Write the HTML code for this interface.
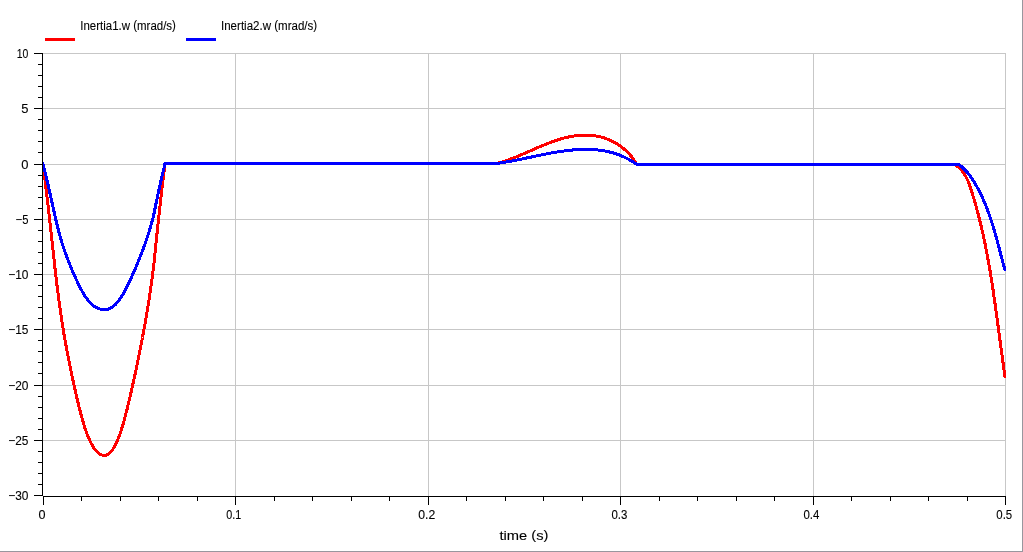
<!DOCTYPE html>
<html lang="en">
<head>
<meta charset="utf-8">
<title>Plot</title>
<style>
html,body{margin:0;padding:0;background:#ffffff;}
body{width:1023px;height:552px;overflow:hidden;font-family:"Liberation Sans",sans-serif;}
svg{display:block;will-change:transform;}
</style>
</head>
<body>
<svg width="1023" height="552" viewBox="0 0 1023 552">
<rect x="0" y="0" width="1023" height="552" fill="#ffffff"/>
<rect x="1022" y="0" width="1" height="552" fill="#98969e"/>
<rect x="0" y="551" width="1023" height="1" fill="#98969e"/>
<g fill="#c7c7c7" shape-rendering="crispEdges">
<rect x="43" y="53" width="963" height="1"/>
<rect x="43" y="108" width="963" height="1"/>
<rect x="43" y="164" width="963" height="1"/>
<rect x="43" y="219" width="963" height="1"/>
<rect x="43" y="274" width="963" height="1"/>
<rect x="43" y="329" width="963" height="1"/>
<rect x="43" y="385" width="963" height="1"/>
<rect x="43" y="440" width="963" height="1"/>
<rect x="235" y="53" width="1" height="443"/>
<rect x="428" y="53" width="1" height="443"/>
<rect x="620" y="53" width="1" height="443"/>
<rect x="813" y="53" width="1" height="443"/>
<rect x="1005" y="53" width="1" height="443"/>
</g>
<clipPath id="cv"><rect x="43" y="53" width="963" height="443"/></clipPath>
<g fill="none" stroke-width="3" stroke-linejoin="round" stroke-linecap="butt" shape-rendering="crispEdges" clip-path="url(#cv)">
<path stroke="#ff0000" d="M42.6 162.1L42.6 164.0L43.0 164.0L43.3 166.3L43.6 168.6L43.8 170.9L44.1 173.2L44.4 175.5L44.7 177.8L45.0 180.1L45.2 182.3L45.5 184.6L45.8 186.9L46.1 189.2L46.3 191.5L46.6 193.8L46.9 196.1L47.2 198.3L47.4 200.6L47.7 202.9L48.0 205.2L48.2 207.4L48.5 209.7L48.8 212.0L49.0 214.2L49.3 216.5L49.5 218.7L49.8 221.0L50.0 223.2L50.3 225.5L50.5 227.7L50.8 230.0L51.0 232.2L51.3 234.4L51.5 236.6L51.8 238.9L52.0 241.1L52.2 243.3L52.5 245.5L52.7 247.7L53.0 249.9L53.2 252.1L53.4 254.3L53.7 256.4L53.9 258.6L54.2 260.8L54.4 262.9L54.6 265.1L54.9 267.2L55.1 269.4L55.4 271.5L55.6 273.7L55.9 275.8L56.1 277.9L56.4 280.0L56.6 282.1L56.9 284.2L57.1 286.3L57.4 288.4L57.6 290.4L57.9 292.5L58.2 294.6L58.4 296.6L58.7 298.6L59.0 300.7L59.2 302.7L59.5 304.7L59.8 306.7L60.1 308.7L60.4 310.7L60.6 312.7L60.9 314.6L61.2 316.6L61.5 318.5L61.8 320.5L62.1 322.4L62.4 324.3L62.7 326.3L63.0 328.2L63.3 330.0L63.6 331.9L63.9 333.8L64.2 335.7L64.6 337.5L64.9 339.3L65.2 341.2L65.5 343.0L65.9 344.8L66.2 346.6L66.5 348.4L66.8 350.1L67.2 351.9L67.5 353.6L67.8 355.4L68.2 357.1L68.5 358.8L68.9 360.5L69.2 362.2L69.5 363.9L69.9 365.5L70.2 367.2L70.5 368.8L70.9 370.5L71.2 372.1L71.6 373.7L71.9 375.3L72.2 376.8L72.6 378.4L72.9 379.9L73.2 381.5L73.6 383.0L73.9 384.5L74.2 386.0L74.5 387.5L74.9 388.9L75.2 390.4L75.5 391.8L75.8 393.2L76.2 394.7L76.5 396.1L76.8 397.4L77.1 398.8L77.4 400.2L77.7 401.5L78.1 402.8L78.4 404.1L78.7 405.4L79.0 406.7L79.3 408.0L79.6 409.2L79.9 410.4L80.3 411.6L80.6 412.8L80.9 414.0L81.2 415.2L81.5 416.4L81.8 417.5L82.1 418.6L82.4 419.7L82.7 420.8L83.1 421.9L83.4 423.0L83.7 424.0L84.0 425.0L84.3 426.0L84.6 427.0L84.9 428.0L85.3 429.0L85.6 429.9L85.9 430.9L86.2 431.8L86.5 432.7L86.9 433.5L87.2 434.4L87.5 435.3L87.8 436.1L88.2 436.9L88.5 437.7L88.8 438.5L89.2 439.2L89.5 440.0L89.8 440.7L90.2 441.4L90.5 442.1L90.9 442.8L91.2 443.4L91.6 444.1L91.9 444.7L92.3 445.3L92.6 445.9L93.0 446.5L93.3 447.0L93.7 447.6L94.0 448.1L94.4 448.6L94.7 449.1L95.1 449.5L95.4 450.0L95.8 450.4L96.2 450.8L96.5 451.2L96.9 451.6L97.2 452.0L97.6 452.3L98.0 452.6L98.3 452.9L98.7 453.2L99.0 453.5L99.4 453.8L99.8 454.0L100.1 454.2L100.5 454.4L100.8 454.6L101.2 454.7L101.6 454.9L101.9 455.0L102.3 455.1L102.6 455.2L103.0 455.3L103.3 455.3L103.7 455.4L104.0 455.4L104.4 455.4L104.7 455.4L105.1 455.3L105.4 455.3L105.8 455.2L106.1 455.1L106.4 455.0L106.8 454.9L107.1 454.7L107.5 454.6L107.8 454.4L108.1 454.2L108.5 454.0L108.8 453.8L109.1 453.5L109.4 453.2L109.8 452.9L110.1 452.6L110.4 452.3L110.8 452.0L111.1 451.6L111.4 451.2L111.7 450.8L112.0 450.4L112.4 450.0L112.7 449.5L113.0 449.1L113.3 448.6L113.6 448.1L114.0 447.6L114.3 447.0L114.6 446.5L114.9 445.9L115.2 445.3L115.5 444.7L115.8 444.1L116.1 443.4L116.4 442.8L116.8 442.1L117.1 441.4L117.4 440.7L117.7 440.0L118.0 439.2L118.3 438.5L118.6 437.7L118.9 436.9L119.2 436.1L119.5 435.3L119.8 434.4L120.1 433.5L120.4 432.7L120.7 431.8L121.0 430.9L121.3 429.9L121.6 429.0L121.9 428.0L122.2 427.0L122.5 426.0L122.8 425.0L123.1 424.0L123.4 423.0L123.7 421.9L124.0 420.8L124.3 419.7L124.6 418.6L124.9 417.5L125.2 416.4L125.5 415.2L125.8 414.0L126.1 412.8L126.5 411.6L126.8 410.4L127.1 409.2L127.4 408.0L127.7 406.7L128.0 405.4L128.3 404.1L128.6 402.8L128.9 401.5L129.3 400.2L129.6 398.8L129.9 397.4L130.2 396.1L130.5 394.7L130.8 393.2L131.2 391.8L131.5 390.4L131.8 388.9L132.2 387.5L132.5 386.0L132.8 384.5L133.1 383.0L133.5 381.5L133.8 379.9L134.2 378.4L134.5 376.8L134.8 375.3L135.2 373.7L135.5 372.1L135.9 370.5L136.2 368.8L136.6 367.2L136.9 365.5L137.2 363.9L137.6 362.2L137.9 360.5L138.3 358.8L138.6 357.1L139.0 355.4L139.3 353.6L139.7 351.9L140.0 350.1L140.4 348.4L140.7 346.6L141.1 344.8L141.4 343.0L141.8 341.2L142.1 339.3L142.5 337.5L142.8 335.7L143.2 333.8L143.5 331.9L143.9 330.0L144.2 328.2L144.6 326.3L144.9 324.3L145.3 322.4L145.6 320.5L145.9 318.5L146.3 316.6L146.6 314.6L146.9 312.7L147.3 310.7L147.6 308.7L147.9 306.7L148.3 304.7L148.6 302.7L148.9 300.7L149.2 298.6L149.5 296.6L149.8 294.6L150.1 292.5L150.4 290.4L150.7 288.4L151.0 286.3L151.3 284.2L151.6 282.1L151.9 280.0L152.2 277.9L152.4 275.8L152.7 273.7L153.0 271.5L153.2 269.4L153.5 267.2L153.7 265.1L154.0 262.9L154.2 260.8L154.4 258.6L154.7 256.4L154.9 254.3L155.1 252.1L155.4 249.9L155.6 247.7L155.8 245.5L156.0 243.3L156.3 241.1L156.5 238.9L156.7 236.6L156.9 234.4L157.2 232.2L157.4 230.0L157.6 227.7L157.9 225.5L158.1 223.2L158.3 221.0L158.6 218.7L158.8 216.5L159.1 214.2L159.3 212.0L159.6 209.7L159.8 207.4L160.1 205.2L160.3 202.9L160.6 200.6L160.8 198.3L161.1 196.1L161.4 193.8L161.6 191.5L161.9 189.2L162.2 186.9L162.4 184.6L162.7 182.3L163.0 180.1L163.3 177.8L163.5 175.5L163.8 173.2L164.1 170.9L164.3 168.6L164.6 166.3L164.9 164.0L164.9 163.5L496.5 163.5L496.5 163.5L497.0 163.4L497.5 163.2L498.0 163.1L498.5 163.0L499.0 162.9L499.5 162.7L499.9 162.6L500.4 162.4L500.9 162.3L501.4 162.2L501.9 162.0L502.4 161.9L502.9 161.7L503.4 161.6L503.9 161.4L504.4 161.2L504.8 161.1L505.3 160.9L505.8 160.8L506.3 160.6L506.8 160.4L507.3 160.3L507.8 160.1L508.3 159.9L508.7 159.7L509.2 159.6L509.7 159.4L510.2 159.2L510.7 159.0L511.2 158.9L511.7 158.7L512.1 158.5L512.6 158.3L513.1 158.1L513.6 157.9L514.1 157.7L514.6 157.5L515.1 157.3L515.5 157.1L516.0 157.0L516.5 156.8L517.0 156.6L517.5 156.4L518.0 156.2L518.5 156.0L518.9 155.8L519.4 155.6L519.9 155.3L520.4 155.1L520.9 154.9L521.4 154.7L521.8 154.5L522.3 154.3L522.8 154.1L523.3 153.9L523.8 153.7L524.3 153.5L524.7 153.3L525.2 153.1L525.7 152.8L526.2 152.6L526.7 152.4L527.2 152.2L527.6 152.0L528.1 151.8L528.6 151.6L529.1 151.4L529.6 151.1L530.1 150.9L530.6 150.7L531.0 150.5L531.5 150.3L532.0 150.1L532.5 149.9L533.0 149.6L533.5 149.4L533.9 149.2L534.4 149.0L534.9 148.8L535.4 148.6L535.9 148.4L536.4 148.2L536.9 147.9L537.3 147.7L537.8 147.5L538.3 147.3L538.8 147.1L539.3 146.9L539.8 146.7L540.3 146.5L540.7 146.3L541.2 146.1L541.7 145.9L542.2 145.7L542.7 145.5L543.2 145.3L543.7 145.1L544.2 144.9L544.7 144.7L545.1 144.5L545.6 144.3L546.1 144.1L546.6 143.9L547.1 143.7L547.6 143.5L548.1 143.3L548.6 143.1L549.1 142.9L549.6 142.7L550.0 142.5L550.5 142.3L551.0 142.2L551.5 142.0L552.0 141.8L552.5 141.6L553.0 141.4L553.5 141.3L554.0 141.1L554.5 140.9L555.0 140.8L555.5 140.6L556.0 140.4L556.5 140.3L557.0 140.1L557.5 139.9L558.0 139.8L558.5 139.6L559.0 139.5L559.5 139.3L560.0 139.2L560.5 139.0L561.0 138.9L561.5 138.7L562.0 138.6L562.5 138.4L563.0 138.3L563.5 138.2L564.0 138.0L564.5 137.9L565.0 137.8L565.5 137.7L566.0 137.5L566.5 137.4L567.0 137.3L567.5 137.2L568.0 137.1L568.5 137.0L569.0 136.9L569.5 136.8L570.0 136.7L570.5 136.6L571.0 136.5L571.6 136.4L572.1 136.3L572.6 136.2L573.1 136.1L573.6 136.0L574.1 136.0L574.6 135.9L575.1 135.8L575.7 135.8L576.2 135.7L576.7 135.6L577.2 135.6L577.7 135.5L578.2 135.5L578.8 135.4L579.3 135.4L579.8 135.4L580.3 135.3L580.8 135.3L581.4 135.3L581.9 135.2L582.4 135.2L582.9 135.2L583.4 135.2L583.9 135.2L584.5 135.2L585.0 135.2L585.5 135.2L586.0 135.2L586.5 135.2L587.1 135.2L587.6 135.2L588.1 135.2L588.6 135.3L589.1 135.3L589.7 135.3L590.2 135.4L590.7 135.4L591.2 135.4L591.7 135.5L592.2 135.5L592.7 135.6L593.3 135.7L593.8 135.7L594.3 135.8L594.8 135.9L595.3 135.9L595.8 136.0L596.3 136.1L596.8 136.2L597.3 136.3L597.9 136.4L598.4 136.5L598.9 136.6L599.4 136.7L599.9 136.8L600.4 136.9L600.9 137.0L601.4 137.2L601.9 137.3L602.4 137.4L602.9 137.6L603.4 137.7L603.9 137.9L604.4 138.0L604.9 138.2L605.3 138.4L605.8 138.5L606.3 138.7L606.8 138.9L607.3 139.1L607.8 139.2L608.3 139.4L608.7 139.6L609.2 139.8L609.7 140.0L610.2 140.2L610.6 140.5L611.1 140.7L611.6 140.9L612.0 141.1L612.5 141.4L613.0 141.6L613.4 141.8L613.9 142.1L614.4 142.3L614.8 142.6L615.3 142.8L615.7 143.1L616.2 143.4L616.6 143.6L617.1 143.9L617.5 144.2L617.9 144.5L618.4 144.7L618.8 145.0L619.2 145.3L619.7 145.6L620.1 145.9L620.5 146.2L620.9 146.5L621.4 146.8L621.8 147.2L622.2 147.5L622.6 147.8L623.0 148.1L623.4 148.5L623.8 148.8L624.2 149.1L624.6 149.5L625.0 149.8L625.4 150.2L625.8 150.5L626.2 150.9L626.5 151.2L626.9 151.6L627.3 152.0L627.7 152.3L628.0 152.7L628.4 153.1L628.8 153.5L629.1 153.9L629.5 154.3L629.8 154.6L630.2 155.0L630.5 155.4L630.8 155.8L631.2 156.2L631.5 156.6L631.8 157.1L632.2 157.5L632.5 157.9L632.8 158.3L633.1 158.7L633.4 159.2L633.7 159.6L634.0 160.0L634.3 160.5L634.6 160.9L634.9 161.3L635.2 161.8L635.5 162.2L635.7 162.7L636.0 163.1L636.3 163.6L636.5 164.0L636.8 164.5L636.8 164.5L954.5 164.5L954.5 164.5L955.2 164.9L955.8 165.3L956.5 165.7L957.1 166.2L957.7 166.6L958.2 167.1L958.8 167.6L959.4 168.1L959.9 168.6L960.4 169.1L960.9 169.6L961.4 170.1L961.8 170.7L962.3 171.3L962.7 171.8L963.2 172.4L963.6 173.0L964.0 173.6L964.4 174.2L964.8 174.8L965.1 175.4L965.5 176.1L965.9 176.7L966.2 177.3L966.5 178.0L966.8 178.6L967.2 179.3L967.5 180.0L967.8 180.6L968.1 181.3L968.3 182.0L968.6 182.7L968.9 183.4L969.2 184.1L969.4 184.8L969.7 185.5L969.9 186.2L970.2 186.9L970.4 187.6L970.7 188.3L970.9 189.0L971.1 189.7L971.4 190.4L971.6 191.1L971.8 191.9L972.0 192.6L972.3 193.3L972.5 194.0L972.7 194.7L972.9 195.4L973.1 196.2L973.3 196.9L973.6 197.6L973.8 198.3L974.0 199.0L974.2 199.8L974.4 200.5L974.6 201.2L974.8 201.9L975.0 202.6L975.2 203.4L975.5 204.1L975.7 204.8L975.9 205.5L976.1 206.2L976.3 207.0L976.5 207.7L976.7 208.4L976.9 209.1L977.0 209.8L977.2 210.6L977.4 211.3L977.6 212.0L977.8 212.7L978.0 213.5L978.2 214.2L978.4 214.9L978.6 215.6L978.8 216.3L978.9 217.1L979.1 217.8L979.3 218.5L979.5 219.2L979.7 220.0L979.8 220.7L980.0 221.4L980.2 222.1L980.4 222.9L980.5 223.6L980.7 224.3L980.9 225.0L981.1 225.8L981.2 226.5L981.4 227.2L981.6 227.9L981.7 228.7L981.9 229.4L982.1 230.1L982.2 230.8L982.4 231.6L982.6 232.3L982.7 233.0L982.9 233.8L983.1 234.5L983.2 235.2L983.4 235.9L983.5 236.7L983.7 237.4L983.8 238.1L984.0 238.9L984.2 239.6L984.3 240.3L984.5 241.0L984.6 241.8L984.8 242.5L984.9 243.2L985.1 244.0L985.2 244.7L985.4 245.4L985.5 246.1L985.6 246.9L985.8 247.6L985.9 248.3L986.1 249.1L986.2 249.8L986.4 250.5L986.5 251.3L986.6 252.0L986.8 252.7L986.9 253.4L987.1 254.2L987.2 254.9L987.3 255.6L987.5 256.4L987.6 257.1L987.7 257.8L987.9 258.6L988.0 259.3L988.1 260.0L988.3 260.8L988.4 261.5L988.5 262.2L988.7 263.0L988.8 263.7L988.9 264.4L989.1 265.2L989.2 265.9L989.3 266.6L989.4 267.4L989.6 268.1L989.7 268.8L989.8 269.6L989.9 270.3L990.1 271.0L990.2 271.8L990.3 272.5L990.4 273.2L990.5 274.0L990.7 274.7L990.8 275.4L990.9 276.2L991.0 276.9L991.1 277.6L991.3 278.4L991.4 279.1L991.5 279.8L991.6 280.6L991.7 281.3L991.8 282.0L991.9 282.8L992.1 283.5L992.2 284.3L992.3 285.0L992.4 285.7L992.5 286.5L992.6 287.2L992.7 287.9L992.8 288.7L993.0 289.4L993.1 290.1L993.2 290.9L993.3 291.6L993.4 292.4L993.5 293.1L993.6 293.8L993.7 294.6L993.8 295.3L993.9 296.0L994.0 296.8L994.2 297.5L994.3 298.2L994.4 299.0L994.5 299.7L994.6 300.5L994.7 301.2L994.8 301.9L994.9 302.7L995.0 303.4L995.1 304.1L995.2 304.9L995.3 305.6L995.4 306.4L995.5 307.1L995.6 307.8L995.7 308.6L995.8 309.3L995.9 310.0L996.0 310.8L996.1 311.5L996.2 312.3L996.3 313.0L996.4 313.7L996.5 314.5L996.6 315.2L996.7 315.9L996.8 316.7L996.9 317.4L997.0 318.2L997.1 318.9L997.2 319.6L997.3 320.4L997.4 321.1L997.5 321.9L997.6 322.6L997.7 323.3L997.8 324.1L997.9 324.8L998.0 325.5L998.1 326.3L998.2 327.0L998.3 327.8L998.4 328.5L998.5 329.2L998.6 330.0L998.7 330.7L998.8 331.5L998.9 332.2L999.0 332.9L999.1 333.7L999.2 334.4L999.3 335.2L999.4 335.9L999.5 336.6L999.6 337.4L999.7 338.1L999.8 338.8L999.9 339.6L1000.0 340.3L1000.1 341.1L1000.2 341.8L1000.3 342.5L1000.4 343.3L1000.5 344.0L1000.6 344.8L1000.7 345.5L1000.8 346.2L1000.9 347.0L1001.0 347.7L1001.1 348.5L1001.2 349.2L1001.3 349.9L1001.4 350.7L1001.5 351.4L1001.6 352.2L1001.7 352.9L1001.8 353.6L1001.9 354.4L1002.0 355.1L1002.1 355.8L1002.2 356.6L1002.3 357.3L1002.4 358.1L1002.5 358.8L1002.6 359.5L1002.7 360.3L1002.8 361.0L1002.9 361.8L1003.0 362.5L1003.1 363.2L1003.2 364.0L1003.3 364.7L1003.4 365.4L1003.5 366.2L1003.6 366.9L1003.7 367.7L1003.8 368.4L1003.9 369.1L1004.0 369.9L1004.1 370.6L1004.2 371.4L1004.3 372.1L1004.4 372.8L1004.6 373.6L1004.7 374.3L1004.8 375.0L1004.9 375.8L1005.0 376.5L1005.1 377.3L1005.2 378.0"/>
<path stroke="#0000ff" d="M42.6 162.1L42.6 164.0L43.0 164.0L43.3 165.1L43.6 166.3L43.8 167.4L44.1 168.6L44.4 169.7L44.7 170.9L45.0 172.0L45.2 173.2L45.5 174.3L45.8 175.5L46.1 176.6L46.3 177.7L46.6 178.9L46.9 180.0L47.2 181.2L47.4 182.3L47.7 183.4L48.0 184.6L48.2 185.7L48.5 186.8L48.8 188.0L49.0 189.1L49.3 190.2L49.5 191.4L49.8 192.5L50.0 193.6L50.3 194.7L50.5 195.9L50.8 197.0L51.0 198.1L51.3 199.2L51.5 200.3L51.8 201.4L52.0 202.5L52.2 203.6L52.5 204.7L52.7 205.8L53.0 206.9L53.2 208.0L53.4 209.1L53.7 210.2L53.9 211.3L54.2 212.4L54.4 213.5L54.6 214.6L54.9 215.6L55.1 216.7L55.4 217.8L55.6 218.8L55.9 219.9L56.1 220.9L56.4 222.0L56.6 223.1L56.9 224.1L57.1 225.1L57.4 226.2L57.6 227.2L57.9 228.2L58.2 229.3L58.4 230.3L58.7 231.3L59.0 232.3L59.2 233.3L59.5 234.4L59.8 235.4L60.1 236.4L60.4 237.3L60.6 238.3L60.9 239.3L61.2 240.3L61.5 241.3L61.8 242.2L62.1 243.2L62.4 244.2L62.7 245.1L63.0 246.1L63.3 247.0L63.6 248.0L63.9 248.9L64.2 249.8L64.6 250.8L64.9 251.7L65.2 252.6L65.5 253.5L65.9 254.4L66.2 255.3L66.5 256.2L66.8 257.1L67.2 257.9L67.5 258.8L67.8 259.7L68.2 260.6L68.5 261.4L68.9 262.3L69.2 263.1L69.5 263.9L69.9 264.8L70.2 265.6L70.5 266.4L70.9 267.2L71.2 268.0L71.6 268.8L71.9 269.6L72.2 270.4L72.6 271.2L72.9 272.0L73.2 272.7L73.6 273.5L73.9 274.2L74.2 275.0L74.5 275.7L74.9 276.5L75.2 277.2L75.5 277.9L75.8 278.6L76.2 279.3L76.5 280.0L76.8 280.7L77.1 281.4L77.4 282.1L77.7 282.7L78.1 283.4L78.4 284.1L78.7 284.7L79.0 285.3L79.3 286.0L79.6 286.6L79.9 287.2L80.3 287.8L80.6 288.4L80.9 289.0L81.2 289.6L81.5 290.2L81.8 290.7L82.1 291.3L82.4 291.9L82.7 292.4L83.1 292.9L83.4 293.5L83.7 294.0L84.0 294.5L84.3 295.0L84.6 295.5L84.9 296.0L85.3 296.5L85.6 297.0L85.9 297.4L86.2 297.9L86.5 298.3L86.9 298.8L87.2 299.2L87.5 299.6L87.8 300.0L88.2 300.4L88.5 300.8L88.8 301.2L89.2 301.6L89.5 302.0L89.8 302.4L90.2 302.7L90.5 303.1L90.9 303.4L91.2 303.7L91.6 304.0L91.9 304.4L92.3 304.7L92.6 305.0L93.0 305.2L93.3 305.5L93.7 305.8L94.0 306.0L94.4 306.3L94.7 306.5L95.1 306.8L95.4 307.0L95.8 307.2L96.2 307.4L96.5 307.6L96.9 307.8L97.2 308.0L97.6 308.2L98.0 308.3L98.3 308.5L98.7 308.6L99.0 308.8L99.4 308.9L99.8 309.0L100.1 309.1L100.5 309.2L100.8 309.3L101.2 309.4L101.6 309.4L101.9 309.5L102.3 309.6L102.6 309.6L103.0 309.6L103.3 309.7L103.7 309.7L104.0 309.7L104.4 309.7L104.7 309.7L105.1 309.7L105.4 309.6L105.8 309.6L106.1 309.6L106.4 309.5L106.8 309.4L107.1 309.4L107.5 309.3L107.8 309.2L108.1 309.1L108.5 309.0L108.8 308.9L109.1 308.8L109.4 308.6L109.8 308.5L110.1 308.3L110.4 308.2L110.8 308.0L111.1 307.8L111.4 307.6L111.7 307.4L112.0 307.2L112.4 307.0L112.7 306.8L113.0 306.5L113.3 306.3L113.6 306.0L114.0 305.8L114.3 305.5L114.6 305.2L114.9 305.0L115.2 304.7L115.5 304.4L115.8 304.0L116.1 303.7L116.4 303.4L116.8 303.1L117.1 302.7L117.4 302.4L117.7 302.0L118.0 301.6L118.3 301.2L118.6 300.8L118.9 300.4L119.2 300.0L119.5 299.6L119.8 299.2L120.1 298.8L120.4 298.3L120.7 297.9L121.0 297.4L121.3 297.0L121.6 296.5L121.9 296.0L122.2 295.5L122.5 295.0L122.8 294.5L123.1 294.0L123.4 293.5L123.7 292.9L124.0 292.4L124.3 291.9L124.6 291.3L124.9 290.7L125.2 290.2L125.5 289.6L125.8 289.0L126.1 288.4L126.5 287.8L126.8 287.2L127.1 286.6L127.4 286.0L127.7 285.3L128.0 284.7L128.3 284.1L128.6 283.4L128.9 282.7L129.3 282.1L129.6 281.4L129.9 280.7L130.2 280.0L130.5 279.3L130.8 278.6L131.2 277.9L131.5 277.2L131.8 276.5L132.2 275.7L132.5 275.0L132.8 274.2L133.1 273.5L133.5 272.7L133.8 272.0L134.2 271.2L134.5 270.4L134.8 269.6L135.2 268.8L135.5 268.0L135.9 267.2L136.2 266.4L136.6 265.6L136.9 264.8L137.2 263.9L137.6 263.1L137.9 262.3L138.3 261.4L138.6 260.6L139.0 259.7L139.3 258.8L139.7 257.9L140.0 257.1L140.4 256.2L140.7 255.3L141.1 254.4L141.4 253.5L141.8 252.6L142.1 251.7L142.5 250.8L142.8 249.8L143.2 248.9L143.5 248.0L143.9 247.0L144.2 246.1L144.6 245.1L144.9 244.2L145.3 243.2L145.6 242.2L145.9 241.3L146.3 240.3L146.6 239.3L146.9 238.3L147.3 237.3L147.6 236.4L147.9 235.4L148.3 234.4L148.6 233.3L148.9 232.3L149.2 231.3L149.5 230.3L149.8 229.3L150.1 228.2L150.4 227.2L150.7 226.2L151.0 225.1L151.3 224.1L151.6 223.1L151.9 222.0L152.2 220.9L152.4 219.9L152.7 218.8L153.0 217.8L153.2 216.7L153.5 215.6L153.7 214.6L154.0 213.5L154.2 212.4L154.4 211.3L154.7 210.2L154.9 209.1L155.1 208.0L155.4 206.9L155.6 205.8L155.8 204.7L156.0 203.6L156.3 202.5L156.5 201.4L156.7 200.3L156.9 199.2L157.2 198.1L157.4 197.0L157.6 195.9L157.9 194.7L158.1 193.6L158.3 192.5L158.6 191.4L158.8 190.2L159.1 189.1L159.3 188.0L159.6 186.8L159.8 185.7L160.1 184.6L160.3 183.4L160.6 182.3L160.8 181.2L161.1 180.0L161.4 178.9L161.6 177.7L161.9 176.6L162.2 175.5L162.4 174.3L162.7 173.2L163.0 172.0L163.3 170.9L163.5 169.7L163.8 168.6L164.1 167.4L164.3 166.3L164.6 165.1L164.9 164.0L164.9 163.5L496.5 163.5L496.5 163.5L497.0 163.4L497.4 163.4L497.9 163.3L498.3 163.3L498.8 163.2L499.3 163.1L499.7 163.1L500.2 163.0L500.7 162.9L501.1 162.9L501.6 162.8L502.0 162.7L502.5 162.6L503.0 162.6L503.4 162.5L503.9 162.4L504.4 162.3L504.8 162.3L505.3 162.2L505.8 162.1L506.2 162.0L506.7 161.9L507.2 161.9L507.6 161.8L508.1 161.7L508.6 161.6L509.1 161.5L509.5 161.4L510.0 161.4L510.5 161.3L510.9 161.2L511.4 161.1L511.9 161.0L512.4 160.9L512.8 160.8L513.3 160.7L513.8 160.6L514.2 160.5L514.7 160.5L515.2 160.4L515.7 160.3L516.1 160.2L516.6 160.1L517.1 160.0L517.6 159.9L518.0 159.8L518.5 159.7L519.0 159.6L519.5 159.5L519.9 159.4L520.4 159.3L520.9 159.2L521.4 159.1L521.9 159.0L522.3 158.9L522.8 158.8L523.3 158.7L523.8 158.6L524.3 158.5L524.7 158.4L525.2 158.3L525.7 158.2L526.2 158.1L526.7 158.0L527.1 157.9L527.6 157.8L528.1 157.7L528.6 157.6L529.1 157.5L529.5 157.4L530.0 157.3L530.5 157.2L531.0 157.1L531.5 157.0L531.9 156.9L532.4 156.8L532.9 156.7L533.4 156.6L533.9 156.5L534.4 156.4L534.8 156.3L535.3 156.2L535.8 156.1L536.3 156.0L536.8 155.9L537.3 155.8L537.7 155.7L538.2 155.6L538.7 155.5L539.2 155.4L539.7 155.3L540.2 155.2L540.7 155.1L541.1 155.0L541.6 154.9L542.1 154.8L542.6 154.7L543.1 154.6L543.6 154.5L544.1 154.4L544.5 154.3L545.0 154.2L545.5 154.1L546.0 154.0L546.5 153.9L547.0 153.8L547.5 153.7L547.9 153.6L548.4 153.5L548.9 153.4L549.4 153.3L549.9 153.3L550.4 153.2L550.9 153.1L551.3 153.0L551.8 152.9L552.3 152.8L552.8 152.7L553.3 152.6L553.8 152.5L554.3 152.5L554.7 152.4L555.2 152.3L555.7 152.2L556.2 152.1L556.7 152.1L557.2 152.0L557.7 151.9L558.1 151.8L558.6 151.7L559.1 151.7L559.6 151.6L560.1 151.5L560.6 151.4L561.1 151.4L561.5 151.3L562.0 151.2L562.5 151.2L563.0 151.1L563.5 151.0L564.0 151.0L564.4 150.9L564.9 150.8L565.4 150.8L565.9 150.7L566.4 150.6L566.9 150.6L567.4 150.5L567.8 150.5L568.3 150.4L568.8 150.4L569.3 150.3L569.8 150.2L570.3 150.2L570.7 150.1L571.2 150.1L571.7 150.1L572.2 150.0L572.7 150.0L573.1 149.9L573.6 149.9L574.1 149.8L574.6 149.8L575.1 149.8L575.6 149.7L576.0 149.7L576.5 149.7L577.0 149.6L577.5 149.6L578.0 149.6L578.4 149.5L578.9 149.5L579.4 149.5L579.9 149.5L580.4 149.4L580.8 149.4L581.3 149.4L581.8 149.4L582.3 149.4L582.8 149.4L583.2 149.4L583.7 149.3L584.2 149.3L584.7 149.3L585.1 149.3L585.6 149.3L586.1 149.3L586.6 149.3L587.0 149.3L587.5 149.3L588.0 149.3L588.5 149.4L588.9 149.4L589.4 149.4L589.9 149.4L590.4 149.4L590.8 149.4L591.3 149.4L591.8 149.5L592.3 149.5L592.7 149.5L593.2 149.6L593.7 149.6L594.2 149.6L594.6 149.6L595.1 149.7L595.6 149.7L596.0 149.8L596.5 149.8L597.0 149.9L597.4 149.9L597.9 150.0L598.4 150.0L598.8 150.1L599.3 150.1L599.8 150.2L600.2 150.2L600.7 150.3L601.2 150.4L601.6 150.4L602.1 150.5L602.6 150.6L603.0 150.7L603.5 150.7L604.0 150.8L604.4 150.9L604.9 151.0L605.3 151.1L605.8 151.2L606.3 151.2L606.7 151.3L607.2 151.4L607.7 151.5L608.1 151.6L608.6 151.7L609.0 151.8L609.5 152.0L609.9 152.1L610.4 152.2L610.9 152.3L611.3 152.4L611.8 152.5L612.2 152.7L612.7 152.8L613.1 152.9L613.6 153.1L614.0 153.2L614.5 153.3L614.9 153.5L615.4 153.6L615.8 153.8L616.3 153.9L616.7 154.1L617.2 154.2L617.6 154.4L618.1 154.6L618.5 154.7L619.0 154.9L619.4 155.1L619.9 155.2L620.3 155.4L620.8 155.6L621.2 155.8L621.7 156.0L622.1 156.2L622.5 156.3L623.0 156.5L623.4 156.7L623.9 156.9L624.3 157.1L624.8 157.4L625.2 157.6L625.6 157.8L626.1 158.0L626.5 158.2L626.9 158.4L627.4 158.7L627.8 158.9L628.2 159.1L628.7 159.4L629.1 159.6L629.5 159.8L630.0 160.1L630.4 160.3L630.8 160.6L631.3 160.9L631.7 161.1L632.1 161.4L632.6 161.6L633.0 161.9L633.4 162.2L633.8 162.5L634.3 162.7L634.7 163.0L635.1 163.3L635.5 163.6L636.0 163.9L636.4 164.2L636.8 164.5L636.8 164.5L958.6 164.5L958.6 164.5L958.9 164.7L959.2 164.9L959.5 165.1L959.9 165.4L960.2 165.6L960.5 165.8L960.8 166.1L961.1 166.3L961.4 166.5L961.7 166.8L962.0 167.0L962.3 167.3L962.5 167.5L962.8 167.8L963.1 168.0L963.4 168.3L963.7 168.6L964.0 168.8L964.2 169.1L964.5 169.4L964.8 169.7L965.0 169.9L965.3 170.2L965.6 170.5L965.8 170.8L966.1 171.1L966.4 171.3L966.6 171.6L966.9 171.9L967.1 172.2L967.4 172.5L967.6 172.8L967.9 173.1L968.1 173.4L968.4 173.7L968.6 174.0L968.9 174.3L969.1 174.6L969.3 175.0L969.6 175.3L969.8 175.6L970.0 175.9L970.3 176.2L970.5 176.5L970.7 176.9L971.0 177.2L971.2 177.5L971.4 177.8L971.6 178.2L971.9 178.5L972.1 178.8L972.3 179.1L972.5 179.5L972.7 179.8L973.0 180.1L973.2 180.5L973.4 180.8L973.6 181.1L973.8 181.5L974.0 181.8L974.2 182.1L974.4 182.5L974.6 182.8L974.8 183.2L975.0 183.5L975.2 183.8L975.4 184.2L975.6 184.5L975.8 184.9L976.0 185.2L976.2 185.6L976.4 185.9L976.6 186.2L976.8 186.6L977.0 186.9L977.2 187.3L977.4 187.6L977.6 188.0L977.8 188.3L978.0 188.7L978.2 189.0L978.3 189.4L978.5 189.7L978.7 190.1L978.9 190.4L979.1 190.8L979.3 191.1L979.4 191.5L979.6 191.8L979.8 192.2L980.0 192.5L980.2 192.9L980.3 193.2L980.5 193.6L980.7 194.0L980.8 194.3L981.0 194.7L981.2 195.0L981.4 195.4L981.5 195.7L981.7 196.1L981.9 196.4L982.0 196.8L982.2 197.2L982.4 197.5L982.5 197.9L982.7 198.2L982.9 198.6L983.0 199.0L983.2 199.3L983.3 199.7L983.5 200.0L983.7 200.4L983.8 200.8L984.0 201.1L984.1 201.5L984.3 201.9L984.4 202.2L984.6 202.6L984.8 203.0L984.9 203.3L985.1 203.7L985.2 204.1L985.4 204.4L985.5 204.8L985.7 205.2L985.8 205.5L986.0 205.9L986.1 206.3L986.2 206.6L986.4 207.0L986.5 207.4L986.7 207.7L986.8 208.1L987.0 208.5L987.1 208.8L987.2 209.2L987.4 209.6L987.5 210.0L987.7 210.3L987.8 210.7L987.9 211.1L988.1 211.4L988.2 211.8L988.4 212.2L988.5 212.6L988.6 212.9L988.8 213.3L988.9 213.7L989.0 214.0L989.2 214.4L989.3 214.8L989.4 215.2L989.6 215.5L989.7 215.9L989.8 216.3L989.9 216.7L990.1 217.1L990.2 217.4L990.3 217.8L990.5 218.2L990.6 218.6L990.7 218.9L990.8 219.3L991.0 219.7L991.1 220.1L991.2 220.4L991.3 220.8L991.4 221.2L991.6 221.6L991.7 222.0L991.8 222.3L991.9 222.7L992.1 223.1L992.2 223.5L992.3 223.9L992.4 224.2L992.5 224.6L992.7 225.0L992.8 225.4L992.9 225.8L993.0 226.1L993.1 226.5L993.2 226.9L993.3 227.3L993.5 227.7L993.6 228.0L993.7 228.4L993.8 228.8L993.9 229.2L994.0 229.6L994.1 230.0L994.3 230.3L994.4 230.7L994.5 231.1L994.6 231.5L994.7 231.9L994.8 232.3L994.9 232.6L995.0 233.0L995.1 233.4L995.3 233.8L995.4 234.2L995.5 234.6L995.6 234.9L995.7 235.3L995.8 235.7L995.9 236.1L996.0 236.5L996.1 236.9L996.2 237.2L996.3 237.6L996.4 238.0L996.5 238.4L996.7 238.8L996.8 239.2L996.9 239.5L997.0 239.9L997.1 240.3L997.2 240.7L997.3 241.1L997.4 241.5L997.5 241.9L997.6 242.2L997.7 242.6L997.8 243.0L997.9 243.4L998.0 243.8L998.1 244.2L998.2 244.6L998.3 244.9L998.4 245.3L998.5 245.7L998.6 246.1L998.7 246.5L998.8 246.9L998.9 247.3L999.0 247.6L999.1 248.0L999.2 248.4L999.3 248.8L999.4 249.2L999.5 249.6L999.6 249.9L999.7 250.3L999.8 250.7L999.9 251.1L1000.0 251.5L1000.1 251.9L1000.2 252.3L1000.3 252.6L1000.4 253.0L1000.5 253.4L1000.6 253.8L1000.7 254.2L1000.8 254.6L1000.9 255.0L1001.0 255.3L1001.1 255.7L1001.2 256.1L1001.3 256.5L1001.4 256.9L1001.5 257.3L1001.6 257.6L1001.7 258.0L1001.8 258.4L1001.9 258.8L1002.0 259.2L1002.1 259.6L1002.2 259.9L1002.3 260.3L1002.4 260.7L1002.5 261.1L1002.6 261.5L1002.7 261.9L1002.8 262.2L1002.9 262.6L1003.0 263.0L1003.1 263.4L1003.2 263.8L1003.4 264.2L1003.5 264.5L1003.6 264.9L1003.7 265.3L1003.8 265.7L1003.9 266.1L1004.0 266.4L1004.1 266.8L1004.2 267.2L1004.3 267.6L1004.4 268.0L1004.5 268.3L1004.6 268.7L1004.7 269.1L1004.8 269.5L1004.9 269.9L1005.0 270.2L1005.1 270.6L1005.2 271.0"/>
</g>
<g fill="#000000" shape-rendering="crispEdges">
<rect x="42" y="53" width="1" height="443"/>
<rect x="43" y="496" width="963" height="1"/>
<rect x="34" y="53" width="8" height="1"/>
<rect x="38" y="64" width="4" height="1"/>
<rect x="38" y="75" width="4" height="1"/>
<rect x="38" y="86" width="4" height="1"/>
<rect x="38" y="97" width="4" height="1"/>
<rect x="34" y="108" width="8" height="1"/>
<rect x="38" y="119" width="4" height="1"/>
<rect x="38" y="130" width="4" height="1"/>
<rect x="38" y="141" width="4" height="1"/>
<rect x="38" y="152" width="4" height="1"/>
<rect x="34" y="164" width="8" height="1"/>
<rect x="38" y="175" width="4" height="1"/>
<rect x="38" y="186" width="4" height="1"/>
<rect x="38" y="197" width="4" height="1"/>
<rect x="38" y="208" width="4" height="1"/>
<rect x="34" y="219" width="8" height="1"/>
<rect x="38" y="230" width="4" height="1"/>
<rect x="38" y="241" width="4" height="1"/>
<rect x="38" y="252" width="4" height="1"/>
<rect x="38" y="263" width="4" height="1"/>
<rect x="34" y="274" width="8" height="1"/>
<rect x="38" y="285" width="4" height="1"/>
<rect x="38" y="296" width="4" height="1"/>
<rect x="38" y="307" width="4" height="1"/>
<rect x="38" y="318" width="4" height="1"/>
<rect x="34" y="329" width="8" height="1"/>
<rect x="38" y="340" width="4" height="1"/>
<rect x="38" y="351" width="4" height="1"/>
<rect x="38" y="362" width="4" height="1"/>
<rect x="38" y="373" width="4" height="1"/>
<rect x="34" y="385" width="8" height="1"/>
<rect x="38" y="396" width="4" height="1"/>
<rect x="38" y="407" width="4" height="1"/>
<rect x="38" y="418" width="4" height="1"/>
<rect x="38" y="429" width="4" height="1"/>
<rect x="34" y="440" width="8" height="1"/>
<rect x="38" y="451" width="4" height="1"/>
<rect x="38" y="462" width="4" height="1"/>
<rect x="38" y="473" width="4" height="1"/>
<rect x="38" y="484" width="4" height="1"/>
<rect x="34" y="495" width="8" height="1"/>
<rect x="43" y="497" width="1" height="8"/>
<rect x="81" y="497" width="1" height="4"/>
<rect x="120" y="497" width="1" height="4"/>
<rect x="158" y="497" width="1" height="4"/>
<rect x="197" y="497" width="1" height="4"/>
<rect x="235" y="497" width="1" height="8"/>
<rect x="274" y="497" width="1" height="4"/>
<rect x="312" y="497" width="1" height="4"/>
<rect x="351" y="497" width="1" height="4"/>
<rect x="389" y="497" width="1" height="4"/>
<rect x="428" y="497" width="1" height="8"/>
<rect x="466" y="497" width="1" height="4"/>
<rect x="505" y="497" width="1" height="4"/>
<rect x="543" y="497" width="1" height="4"/>
<rect x="582" y="497" width="1" height="4"/>
<rect x="620" y="497" width="1" height="8"/>
<rect x="659" y="497" width="1" height="4"/>
<rect x="697" y="497" width="1" height="4"/>
<rect x="736" y="497" width="1" height="4"/>
<rect x="774" y="497" width="1" height="4"/>
<rect x="813" y="497" width="1" height="8"/>
<rect x="851" y="497" width="1" height="4"/>
<rect x="890" y="497" width="1" height="4"/>
<rect x="928" y="497" width="1" height="4"/>
<rect x="967" y="497" width="1" height="4"/>
<rect x="1005" y="497" width="1" height="8"/>
</g>
<rect x="45" y="38" width="30" height="3" fill="#ff0000"/>
<rect x="186" y="38" width="30" height="3" fill="#0000ff"/>
<g font-family="'Liberation Sans', sans-serif" font-size="12.5px" fill="#000000" stroke="#000000" stroke-width="0.1">
<text x="80.3" y="30" textLength="95.6" lengthAdjust="spacingAndGlyphs">Inertia1.w <tspan dy="-1.5">(</tspan><tspan dy="1.5">mrad/s</tspan><tspan dy="-1.5">)</tspan></text>
<text x="221.0" y="30" textLength="96.2" lengthAdjust="spacingAndGlyphs">Inertia2.w <tspan dy="-1.5">(</tspan><tspan dy="1.5">mrad/s</tspan><tspan dy="-1.5">)</tspan></text>
<text x="16.8" y="58" textLength="11.6" lengthAdjust="spacingAndGlyphs">10</text>
<text x="21.2" y="113" textLength="7.2" lengthAdjust="spacingAndGlyphs">5</text>
<text x="21.2" y="169" textLength="7.2" lengthAdjust="spacingAndGlyphs">0</text>
<text x="15.6" y="224" textLength="12.8" lengthAdjust="spacingAndGlyphs">−5</text>
<text x="8.2" y="279" textLength="20.2" lengthAdjust="spacingAndGlyphs">−10</text>
<text x="8.2" y="334" textLength="20.2" lengthAdjust="spacingAndGlyphs">−15</text>
<text x="8.2" y="390" textLength="20.2" lengthAdjust="spacingAndGlyphs">−20</text>
<text x="8.2" y="445" textLength="20.2" lengthAdjust="spacingAndGlyphs">−25</text>
<text x="8.2" y="500" textLength="20.2" lengthAdjust="spacingAndGlyphs">−30</text>
<text x="38.5" y="519" textLength="7.0" lengthAdjust="spacingAndGlyphs">0</text>
<text x="226.2" y="519" textLength="15.0" lengthAdjust="spacingAndGlyphs">0.1</text>
<text x="418.3" y="519" textLength="17.0" lengthAdjust="spacingAndGlyphs">0.2</text>
<text x="611.4" y="519" textLength="15.9" lengthAdjust="spacingAndGlyphs">0.3</text>
<text x="803.4" y="519" textLength="15.9" lengthAdjust="spacingAndGlyphs">0.4</text>
<text x="996.3" y="519" textLength="15.9" lengthAdjust="spacingAndGlyphs">0.5</text>
<text x="499.4" y="540" textLength="49" lengthAdjust="spacingAndGlyphs">time <tspan dy="-1.5">(</tspan><tspan dy="1.5">s</tspan><tspan dy="-1.5">)</tspan></text>
</g>
</svg>
</body>
</html>
